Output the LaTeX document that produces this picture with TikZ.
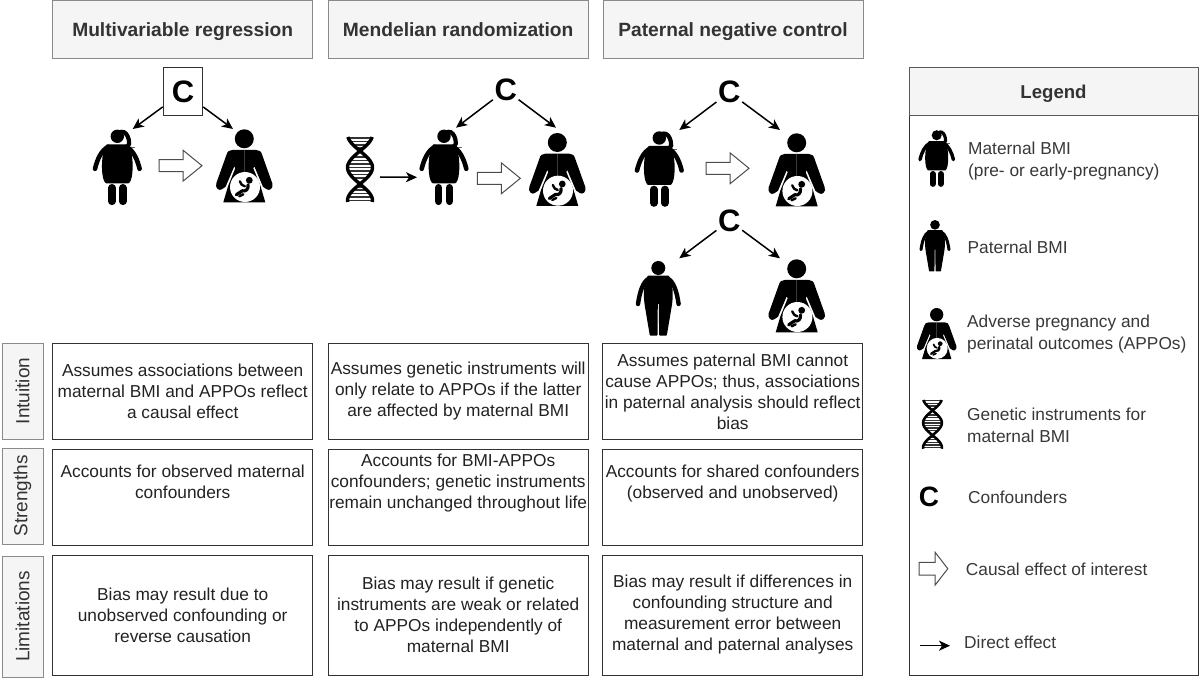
\documentclass[tikz,border=0pt]{standalone}
\usepackage{fontspec}
\setmainfont{Liberation Sans}
\usetikzlibrary{arrows.meta}
\definecolor{headfill}{HTML}{F5F5F5}
\definecolor{headline}{HTML}{8A8A8A}
\definecolor{headtext}{HTML}{333333}
\definecolor{celltext}{HTML}{222222}
\tikzset{
	x=1pt, y=-1pt,
	header/.style={draw=headline, fill=headfill, text=headtext, line width=1pt, inner sep=0pt, minimum width=260pt, minimum height=58pt, text height=18pt, text depth=4pt, font=\fontsize{19.2}{23}\selectfont\bfseries},
	rowname/.style={draw=headline, fill=headfill, text=headtext, line width=1pt, inner sep=0pt, rotate=90, minimum height=41pt, font=\fontsize{19}{23}\selectfont},
	cell/.style={draw=black!80, line width=1pt, inner sep=0pt, minimum width=260pt, align=center, text=celltext, font=\fontsize{17.3}{21}\selectfont},
	conf/.style={inner sep=1.5pt, font=\fontsize{31}{34}\selectfont\bfseries},
	effect/.style={line width=1.5pt, -{Stealth[length=11pt,width=10pt,inset=3pt]}},
	legtext/.style={anchor=west, inner sep=0pt, align=left, text=celltext!90!white, font=\fontsize{17.3}{21.5}\selectfont},
	pics/fatarrow/.style={code={
		\draw[black!70, fill=white, line width=1pt, line join=miter] (0,-6) -- (24,-6) -- (24,-15.5) -- (43,0) -- (24,15.5) -- (24,6) -- (0,6) -- cycle;
	}},
	pics/mom/.style={code={
		\begin{scope}[scale=#1]
			\coordinate (-w) at (-27,48);
			\draw[black!60, line width=#1*1.2pt] (11,18.3) -- (18,18.3);
			\draw[line width=#1*4.2pt, line cap=round] (4,2.5) .. controls (8,2) and (10.5,6) .. (11.5,10.5) .. controls (12.2,13.5) and (12,15.5) .. (10.5,17);
			\fill (0,7) circle (6.7);
			\fill (-10.5,15) -- (10.5,15) .. controls (15,20) and (16,35) .. (15,44) .. controls (14.5,50) and (12.5,54) .. (11,54) -- (-11,54) .. controls (-12.5,54) and (-14.5,50) .. (-15,44) .. controls (-16,35) and (-15,20) .. (-10.5,15) -- cycle;
			\foreach \s in {-1,1} {
				\draw[line width=#1*4.6pt, line cap=round] (\s*9,17.5) .. controls (\s*16,21) and (\s*20,30) .. (\s*22.3,39.5);
				\draw[line width=#1*7.6pt, line cap=round] (\s*5.4,58.5) -- (\s*5.4,72);
			}
		\end{scope}
	}},
	pics/dad/.style={code={
		\begin{scope}[scale=#1]
			\fill (0,7) circle (7);
			\foreach \s in {-1,1} {
				\draw[line width=#1*4.4pt, line cap=round] (\s*9,17.5) .. controls (\s*15,20) and (\s*18.5,30) .. (\s*20.3,43);
				\fill[line join=round, draw=black, line width=#1*1.6pt] (0,15.5) -- (\s*10,15.5) .. controls (\s*14,22) and (\s*14.5,35) .. (\s*12.5,46) -- (\s*7.8,73.8) -- (\s*1.6,73.8) -- (\s*1.3,42) -- (0,42) -- cycle;
			}
		\end{scope}
	}},
	pics/preg/.style={code={
		\begin{scope}[scale=#1]
			\fill (0,9.5) circle (9.5);
			\foreach \s in {-1,1} {
				\fill (0,20.7) -- (\s*12,20.7) .. controls (\s*15,20.7) and (\s*17,22) .. (\s*18,26) -- (\s*28,54) .. controls (\s*29.5,59) and (\s*25,62) .. (\s*22.5,60) -- (\s*18.7,57.5) -- (\s*10,37) -- (\s*9,39) -- (\s*16.3,57) -- (\s*21,73) -- (0,73) -- cycle;
			}
			\fill[white] (0.7,57.7) circle (15);
			\fill (5,51) circle (3.4);
			\draw[line width=#1*3.2pt, line cap=round, line join=round] (3.8,55.5) .. controls (4.2,60) and (1.5,62.5) .. (-2,61.5) -- (-8,65.5);
			\draw[line width=#1*2.4pt, line cap=round, line join=round] (-4.5,52) .. controls (-3.5,55) and (-2,56.5) .. (0.5,57);
			\draw[line width=#1*2.4pt, line cap=round, line join=round] (-5,67) -- (-1,65);
		\end{scope}
	}},
	pics/dna/.style={code={
		\begin{scope}[scale=#1]
			\coordinate (-e) at (20,40);
			\foreach \r in {1,4.5,8,11,20,23.5,27,30.5,34,37.5,41,50,53,56.5,60,63.5} {
				\pgfmathsetmacro{\w}{abs(13*cos((\r-30.5)*180/33))}
				\draw[black!80, line width=#1*1.7pt] (-\w,\r) -- (\w,\r);
			}
			\draw[line width=#1*3.4pt] plot[domain=0:65, samples=45, smooth, variable=\t] ({12.5*cos((\t-30.5)*180/33)},\t);
			\draw[line width=#1*3.4pt] plot[domain=0:65, samples=45, smooth, variable=\t] ({-12.5*cos((\t-30.5)*180/33)},\t);
		\end{scope}
	}},
}

\begin{document}
\begin{tikzpicture}
	\useasboundingbox (0,0) rectangle (1200,679);

	\node[header] (head1) at (182.7,29.5) {Multivariable regression};
	\node[header] (head2) at (458.2,29.5) {Mendelian randomization};
	\node[header] (head3) at (733,29.5) {Paternal negative control};

	\node[rowname, minimum width=96pt] (rowintu) at (22.5,391) {Intuition};
	\node[rowname, minimum width=96pt] (rowstr) at (22.5,496) {Strengths};
	\node[rowname, minimum width=121pt] (rowlim) at (22.5,616.5) {Limitations};

	\node[cell, minimum height=96pt] (intu1) at (182.7,391.5) {Assumes associations between\\maternal BMI and APPOs reflect\\a causal effect};
	\node[cell, minimum height=96pt] (intu2) at (458.2,391.5) {Assumes genetic instruments will\\only relate to APPOs if the latter\\are affected by maternal BMI};
	\node[cell, minimum height=96pt] (intu3) at (732.7,391.5) {Assumes paternal BMI cannot\\cause APPOs; thus, associations\\in paternal analysis should reflect\\bias};

	\node[cell, minimum height=96pt] (str1) at (182.7,497.5) {Accounts for observed maternal\\confounders\\[10pt]\mbox{}};
	\node[cell, minimum height=96pt] (str2) at (458.2,497.5) {Accounts for BMI-APPOs\\confounders; genetic instruments\\remain unchanged throughout life\\[11pt]\mbox{}};
	\node[cell, minimum height=96pt] (str3) at (732.7,497.5) {Accounts for shared confounders\\(observed and unobserved)\\[10pt]\mbox{}};

	\node[cell, minimum height=120pt] (lim1) at (182.7,615) {Bias may result due to\\unobserved confounding or\\reverse causation};
	\node[cell, minimum height=120pt] (lim2) at (458.2,615) {Bias may result if genetic\\instruments are weak or related\\to APPOs independently of\\maternal BMI};
	\node[cell, minimum height=120pt] (lim3) at (732.7,615) {Bias may result if differences in\\confounding structure and\\measurement error between\\maternal and paternal analyses};

	\node[conf, draw=black!80, line width=1pt, inner sep=0pt, minimum width=39.5pt, minimum height=48pt] (c1) at (183,92) {C};
	\pic (m1) at (117.3,129.3) {mom=1};
	\pic (p1) at (244.3,129.3) {preg=1};
	\pic (big1) at (159,165.7) {fatarrow};
	\coordinate (c1l) at (132.7,129);
	\coordinate (c1r) at (233,129);
	\draw[effect] (c1) -- (c1l);
	\draw[effect] (c1) -- (c1r);

	\node[conf] (c2) at (505.7,90) {C};
	\pic (g2) at (360,137) {dna=1};
	\pic (m2) at (444,129.3) {mom=1};
	\pic (p2) at (557.3,133) {preg=1};
	\pic (big2) at (477.3,178.3) {fatarrow};
	\coordinate (c2l) at (456,127.7);
	\coordinate (c2r) at (556,127.7);
	\draw[effect] (c2) -- (c2l);
	\draw[effect] (c2) -- (c2r);
	\draw[effect] (g2-e) -- (m2-w);

	\node[conf] (c3) at (729.3,92.3) {C};
	\pic (m3) at (659.3,131) {mom=1};
	\pic (p3) at (796.7,133.3) {preg=1};
	\pic (big3) at (706,168.3) {fatarrow};
	\coordinate (c3l) at (679.3,130);
	\coordinate (c3r) at (780,130);
	\draw[effect] (c3) -- (c3l);
	\draw[effect] (c3) -- (c3r);

	\node[conf] (c4) at (729.3,220.7) {C};
	\pic (d4) at (658.3,261) {dad=1};
	\pic (p4) at (796.7,259.3) {preg=1};
	\coordinate (c4l) at (679.3,258.3);
	\coordinate (c4r) at (780,258.3);
	\draw[effect] (c4) -- (c4l);
	\draw[effect] (c4) -- (c4r);

	\node[draw=black!80, line width=1pt, inner sep=0pt, minimum width=289pt, minimum height=607pt] (legbox) at (1053.5,371.5) {};
	\node[header, draw=black!65, minimum width=289pt, minimum height=48pt, text height=17pt, font=\fontsize{18.6}{22}\selectfont\bfseries] (leghead) at (1053.5,92) {Legend};

	\pic (lm) at (936.7,130) {mom=0.75};
	\node[legtext] (lmt) at (968,161) {Maternal BMI\\(pre- or early-pregnancy)};
	\pic (ld) at (935,220) {dad=0.69};
	\node[legtext] (ldt) at (967.5,247.7) {Paternal BMI};
	\pic (lp) at (936.7,308) {preg=0.7};
	\node[legtext] (lpt) at (967,334) {Adverse pregnancy and\\perinatal outcomes (APPOs)};
	\pic (lg) at (932.5,400) {dna=0.75};
	\node[legtext] (lgt) at (967,425.5) {Genetic instruments for\\maternal BMI};
	\node[conf, font=\fontsize{28}{30}\selectfont\bfseries] (lc) at (929,497) {C};
	\node[legtext] (lct) at (968,497.3) {Confounders};
	\pic[xscale=0.67, yscale=1.06] (lb) at (919,568.7) {fatarrow};
	\node[legtext] (lbt) at (965.7,569) {Causal effect of interest};
	\coordinate (lea) at (920,645.7);
	\coordinate (leb) at (950,645.7);
	\draw[effect] (lea) -- (leb);
	\node[legtext] (let) at (964,642.3) {Direct effect};
\end{tikzpicture}
\end{document}
